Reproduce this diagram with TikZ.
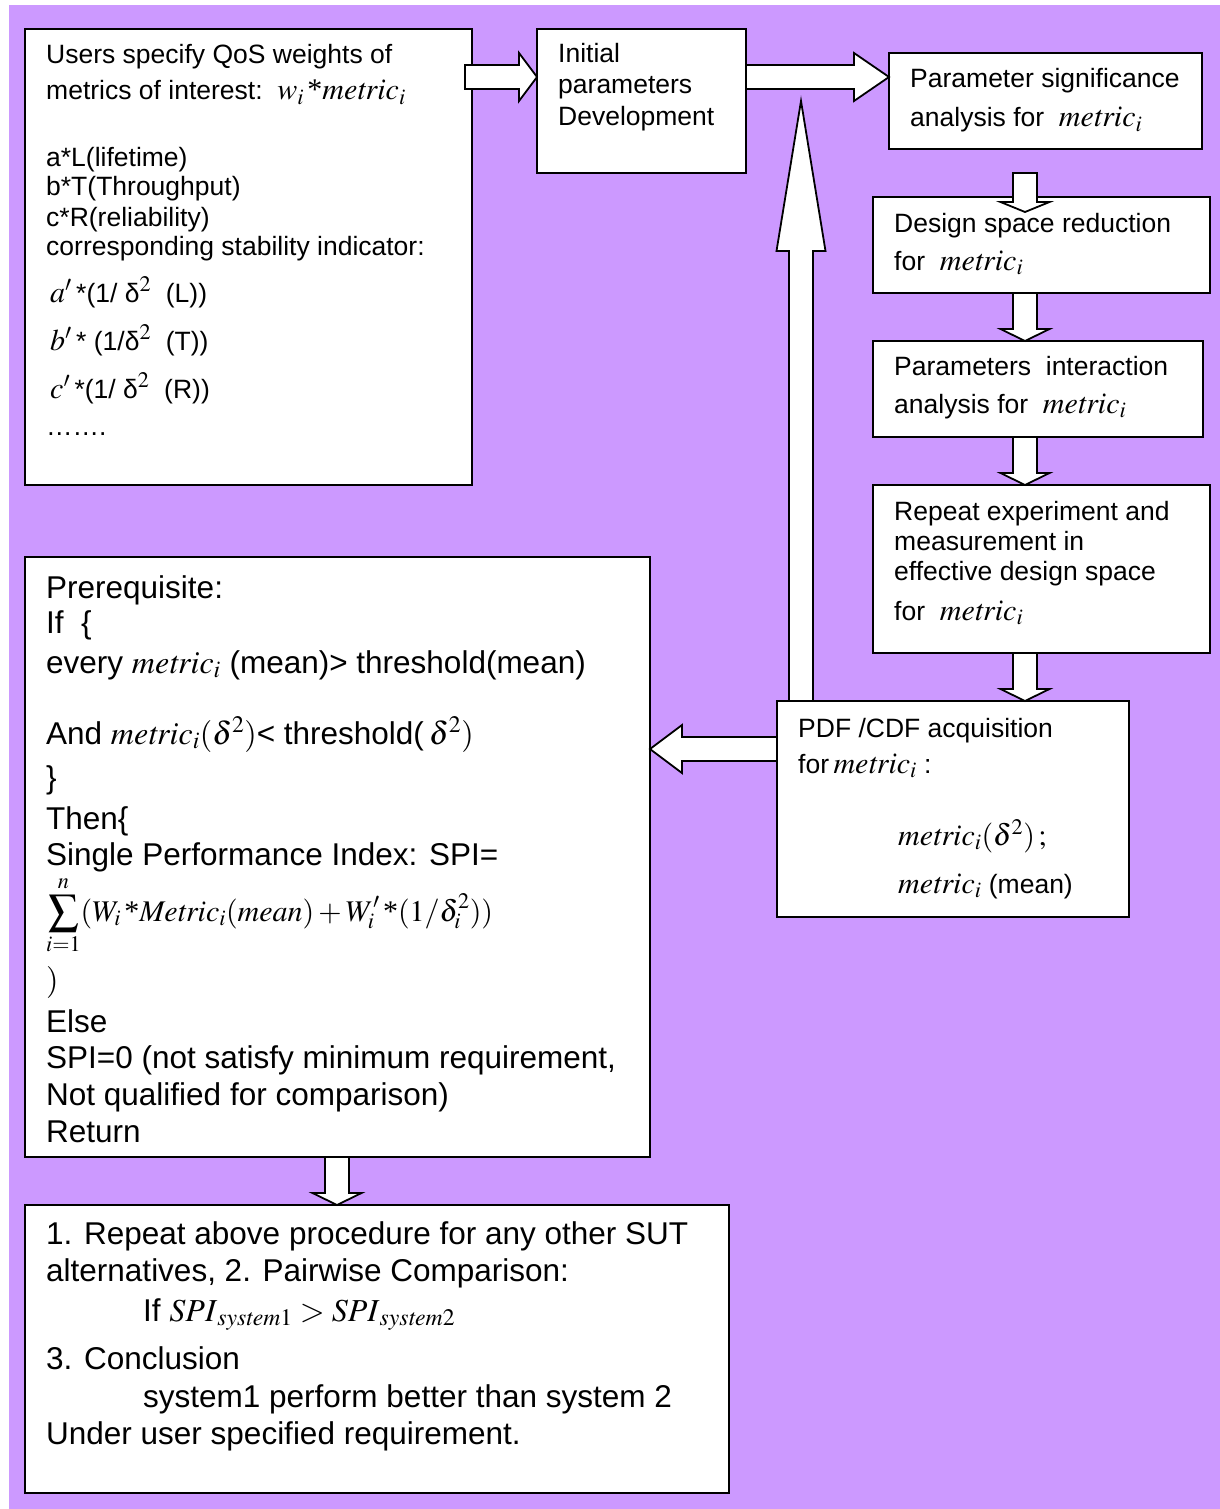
\documentclass[tikz,border=0pt]{standalone}
\usepackage{mathptmx}
\usepackage[no-math]{fontspec}
\setmainfont{Liberation Sans}
\newfontfamily\serifface{Liberation Serif}
\usetikzlibrary{calc}
\definecolor{lavender}{RGB}{204,153,255}

% formula pieces set in Times at the sizes used
\newcommand\mA[1]{{\fontsize{30}{30}\selectfont$#1$}}
\newcommand\mB[1]{{\fontsize{32}{32}\selectfont$#1$}}
\newcommand\mC[1]{{\fontsize{30}{30}\selectfont$\displaystyle #1$}}
\newcommand\sast{\mbox{\serifface *}}
\newcommand\met{\mathit{metric}}

% hollow block arrow: start, tip, shaft half width, head half width, head length
\newcommand\blockarrow[5]{%
  \path ($(#2)!#5pt!(#1)$) coordinate (hb);
  \draw[blk] ($(#1)!#3pt!90:(#2)$) -- ($(hb)!#3pt!90:(#2)$) -- ($(hb)!#4pt!90:(#2)$)
    -- (#2) -- ($(hb)!#4pt!-90:(#2)$) -- ($(hb)!#3pt!-90:(#2)$) -- ($(#1)!#3pt!-90:(#2)$) -- cycle;}

\tikzset{
  box/.style={draw=black, line width=1.8pt, fill=white, rectangle, inner sep=0pt, outer sep=0pt, anchor=north west},
  blk/.style={draw=black, line width=1.8pt, fill=white, line join=miter},
  tA/.style={anchor=base west, inner sep=0pt, font=\fontsize{26.5}{31}\selectfont},
  tB/.style={anchor=base west, inner sep=0pt, font=\fontsize{31.5}{37}\selectfont}
}

\begin{document}
\begin{tikzpicture}[x=1pt, y=-1pt]
\useasboundingbox (0,0) rectangle (1220,1509);
\fill[white] (0,0) rectangle (1220,1509);
\fill[lavender] (9,5) rectangle (1220,1509);

% boxes
\node[box, minimum width=447pt, minimum height=456pt] (b1) at (25,29) {};
\node[box, minimum width=209pt, minimum height=144pt] (b2) at (537,29) {};
\node[box, minimum width=313pt, minimum height=96pt]  (b3) at (889,53) {};
\node[box, minimum width=337pt, minimum height=96pt]  (b4) at (873,197) {};
\node[box, minimum width=330pt, minimum height=96pt]  (b5) at (873,341) {};
\node[box, minimum width=337pt, minimum height=168pt] (b6) at (873,485) {};
\node[box, minimum width=352pt, minimum height=216pt] (b7) at (777,701) {};
\node[box, minimum width=625pt, minimum height=600pt] (b8) at (25,557) {};
\node[box, minimum width=704pt, minimum height=288pt] (b9) at (25,1205) {};

% connectors
\coordinate (a1s) at ($(b1.north east)+(-7,48)$);
\coordinate (a1t) at (b2.west |- a1s);
\blockarrow{a1s}{a1t}{12}{24}{18}
\coordinate (a2s) at (b2.east |- a1s);
\coordinate (a2t) at (b3.west |- a1s);
\blockarrow{a2s}{a2t}{12}{24}{35}
\coordinate (ups) at ($(b7.north west)+(24,0)$);
\coordinate (upt) at (ups |- b2.east);
\blockarrow{ups}{upt}{12}{24.5}{150}
\coordinate (d1s) at ($(b3.south west)+(136,24)$);
\coordinate (d1t) at ($(d1s |- b4.north)+(0,15)$);
\blockarrow{d1s}{d1t}{12}{24.5}{10}
\coordinate (d2s) at (d1s |- b4.south);
\coordinate (d2t) at (d1s |- b5.north);
\blockarrow{d2s}{d2t}{12}{24.5}{12}
\coordinate (d3s) at (d1s |- b5.south);
\coordinate (d3t) at (d1s |- b6.north);
\blockarrow{d3s}{d3t}{12}{24.5}{12}
\coordinate (d4s) at (d1s |- b6.south);
\coordinate (d4t) at (d1s |- b7.north);
\blockarrow{d4s}{d4t}{12}{24.5}{12}
\coordinate (ls) at ($(b7.north west)+(0,48)$);
\coordinate (lt) at (b8.east |- ls);
\blockarrow{ls}{lt}{12}{24}{32}
\coordinate (bs) at ($(b8.south west)+(312,0)$);
\coordinate (bt) at (bs |- b9.north);
\blockarrow{bs}{bt}{12}{24.5}{12}

% texts of the weights box
\node[tA] (t11) at (46,64) {Users specify QoS weights of};
\node[tA] (t12) at (46,100) {metrics of interest:\ \ \mA{w_i\,\sast \met_i}};
\node[tA] (t13) at (46,166) {a*L(lifetime)};
\node[tA] (t14) at (46,195) {b*T(Throughput)};
\node[tA] (t15) at (46,226) {c*R(reliability)};
\node[tA] (t16) at (46,255) {corresponding stability indicator:};
\node[tA] (t17) at (50,302) {\mA{a^{\prime}}\,*(1/ δ\mA{^{2}}\ \ (L))};
\node[tA] (t18) at (50,350) {\mA{b^{\prime}}\,* (1/δ\mA{^{2}}\ \ (T))};
\node[tA] (t19) at (50,398) {\mA{c^{\prime}}\,*(1/ δ\mA{^{2}}\ \ (R))};
\node[tA] (t1a) at (46,435) {…….};

% texts of the right column
\node[tA] (t21) at (558,63) {Initial};
\node[tA] (t22) at (558,94) {parameters};
\node[tA] (t23) at (558,125) {Development};
\node[tA] (t31) at (910,88) {Parameter significance};
\node[tA] (t32) at (910,127) {analysis for\ \ \mA{\met_i}};
\node[tA] (t41) at (894,232) {Design space reduction};
\node[tA] (t42) at (894,270) {for\ \ \mA{\met_i}};
\node[tA] (t51) at (894,375) {Parameters\ \ interaction};
\node[tA] (t52) at (894,413) {analysis for\ \ \mA{\met_i}};
\node[tA] (t61) at (894,520) {Repeat experiment and};
\node[tA] (t62) at (894,550) {measurement in};
\node[tA] (t63) at (894,580) {effective design space};
\node[tA] (t64) at (894,620) {for\ \ \mA{\met_i}};
\node[tA] (t71) at (798,737) {PDF /CDF acquisition};
\node[tA] (t72) at (798,773) {for\,\mA{\met_i}\ :};
\node[tA] (t73) at (898,845) {\mA{\met_i(\delta^{2})\,;}};
\node[tA] (t74) at (898,893) {\mA{\met_i} (mean)};

% texts of the decision box
\node[tB] (t81) at (46,598) {Prerequisite:};
\node[tB] (t82) at (46,633) {If\ \ \{};
\node[tB] (t83) at (46,673) {every \mB{\met_i} (mean)> threshold(mean)};
\node[tB] (t84) at (46,744) {And \mB{\met_i(\delta^{2})}< threshold(\,\mB{\delta^{2})}};
\node[tB] (t85) at (46,788) {\}};
\node[tB] (t86) at (46,829) {Then\{};
\node[tB] (t87) at (46,865) {Single Performance Index: SPI=};
\node[tB] (t88) at (46,921) {\mC{\sum_{i=1}^{n}(W_i\,\sast \mathit{Metric}_i(\mathit{mean})+W_i^{\prime}\,\sast(1/\delta_i^{2}))}};
\node[tB] (t89) at (46,990) {\mB{)}};
\node[tB] (t8a) at (46,1032) {Else};
\node[tB] (t8b) at (46,1068) {SPI=0 (not satisfy minimum requirement,};
\node[tB] (t8c) at (46,1105) {Not qualified for comparison)};
\node[tB] (t8d) at (46,1142) {Return};

% texts of the comparison box
\node[tB] (t91) at (46,1244) {1. Repeat above procedure for any other SUT};
\node[tB] (t92) at (46,1281) {alternatives, 2. Pairwise Comparison:};
\node[tB] (t93) at (143,1321) {If \mB{\mathit{SPI}_{\mathit{system}\mathrm{1}}>\mathit{SPI}_{\mathit{system}\mathrm{2}}}};
\node[tB] (t94) at (46,1369) {3. Conclusion};
\node[tB] (t95) at (143,1407) {system1 perform better than system 2};
\node[tB] (t96) at (46,1444) {Under user specified requirement.};
\end{tikzpicture}
\end{document}
